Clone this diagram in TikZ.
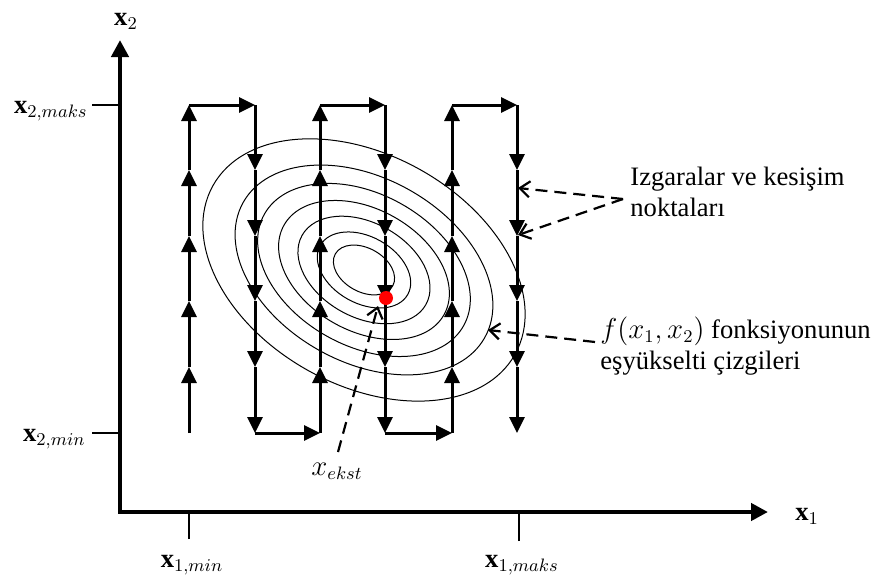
\documentclass[tikz,border=0pt]{standalone}
\usepackage{fontspec}
\setmainfont{Liberation Serif}
\usetikzlibrary{arrows.meta}

\begin{document}
\begin{tikzpicture}[x=0.5pt, y=-0.5pt,
  axis/.style={line width=2.2pt, {Triangle[width=8.5pt,length=8.5pt]}-{Triangle[width=8.5pt,length=8.5pt]}},
  searchline/.style={line width=1.5pt, every edge/.style={draw, -{Triangle[width=7.5pt,length=8pt]}}},
  tick/.style={line width=0.7pt},
  contour/.style={line width=0.5pt},
  note/.style={line width=1.1pt, dash pattern=on 6pt off 3.5pt, -{Straight Barb[length=5pt,width=8pt]}},
  txt/.style={font=\fontsize{13.3}{15.5}\selectfont, inner sep=0pt, align=left}]

\useasboundingbox (0,0) rectangle (874,584);

% Axes
\coordinate (origin) at (120,512);
\coordinate (x2end) at (120,40);
\coordinate (x1end) at (768,512);
\draw[axis] (x2end) |- (x1end);
\node[txt, anchor=base] (x2lab) at (126,25) {$\mathbf{x}_2$};
\node[txt, anchor=base west] (x1lab) at (795,520) {$\mathbf{x}_1$};

% Ticks and limits
\coordinate (t2max) at (92,105);
\coordinate (t2min) at (92,433);
\coordinate (t1min) at (189,539);
\coordinate (t1max) at (519,541);
\draw[tick] (t2max) -- (t2max -| origin);
\draw[tick] (t2min) -- (t2min -| origin);
\draw[tick] (t1min) -- (t1min |- origin);
\draw[tick] (t1max) -- (t1max |- origin);
\node[txt, anchor=base east] (l2max) at (88,113) {$\mathbf{x}_{2,maks}$};
\node[txt, anchor=base east] (l2min) at (86,441) {$\mathbf{x}_{2,min}$};
\node[txt, anchor=base] (l1min) at (192,567) {$\mathbf{x}_{1,min}$};
\node[txt, anchor=base] (l1max) at (522,567) {$\mathbf{x}_{1,maks}$};

% Contour lines
\coordinate (ctr) at (364,270);
\foreach \s in {1,0.8,0.66,0.53,0.41,0.29,0.19}
  \draw[contour, rotate around={-29.2:(ctr)}] (ctr) ellipse [x radius=173*\s, y radius=115*\s];

% Grid points
\foreach \i/\x in {1/189,2/255,3/320,4/385,5/452,6/517}
  \foreach \j/\y in {0/433,1/367,2/301,3/236,4/170,5/105}
    \coordinate (g\i\j) at (\x,\y);

% Search path
\path[searchline] (g10) edge (g11) (g11) edge (g12) (g12) edge (g13) (g13) edge (g14) (g14) edge (g15)
  (g15) edge (g25);
\path[searchline] (g25) edge (g24) (g24) edge (g23) (g23) edge (g22) (g22) edge (g21) (g21) edge (g20)
  (g20) edge (g30);
\path[searchline] (g30) edge (g31) (g31) edge (g32) (g32) edge (g33) (g33) edge (g34) (g34) edge (g35)
  (g35) edge (g45);
\path[searchline] (g45) edge (g44) (g44) edge (g43) (g43) edge (g42) (g42) edge (g41) (g41) edge (g40)
  (g40) edge (g50);
\path[searchline] (g50) edge (g51) (g51) edge (g52) (g52) edge (g53) (g53) edge (g54) (g54) edge (g55)
  (g55) edge (g65);
\path[searchline] (g65) edge (g64) (g64) edge (g63) (g63) edge (g62) (g62) edge (g61) (g61) edge (g60);

% Extremum
\node[circle, fill=red, inner sep=0pt, minimum size=7pt] (xopt) at (386,298) {};
\node[txt, anchor=base] (ekst) at (337,475) {$x_{ekst}$};
\coordinate (ekstfrom) at (338,452);
\coordinate (ekstto) at (378,306);
\draw[note] (ekstfrom) -- (ekstto);

% Grid label
\node[txt, anchor=north west] (gridtxt) at (630,167) {Izgaralar ve kesişim\\noktaları};
\coordinate (gridfrom) at (623,199);
\coordinate (gridpt1) at (518,188);
\coordinate (gridpt2) at (518,235);
\draw[note] (gridfrom) -- (gridpt1);
\draw[note] (gridfrom) -- (gridpt2);

% Contour label
\node[txt, anchor=north west] (ftxt) at (600,316) {$f(x_1,x_2)$ fonksiyonunun\\eşyükselti çizgileri};
\coordinate (ffrom) at (595,342);
\coordinate (fto) at (488,330);
\draw[note] (ffrom) -- (fto);

\end{tikzpicture}
\end{document}
